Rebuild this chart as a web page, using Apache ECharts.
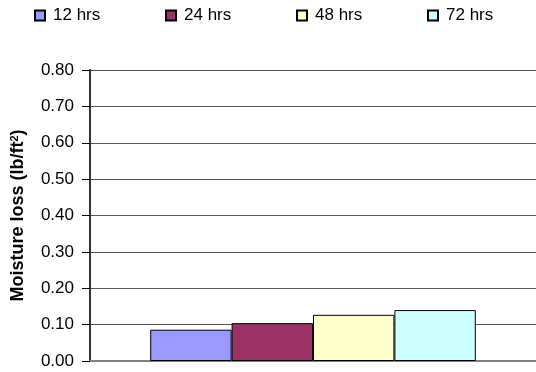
<!DOCTYPE html>
<html>
<head>
<meta charset="utf-8">
<script src="https://cdn.jsdelivr.net/npm/echarts@6/dist/echarts.min.js"></script>
<style>html,body{margin:0;padding:0;background:#fff;}#c{width:536px;height:372px;}</style>
</head>
<body>
<div id="c"></div>
<script>
var categories = [''];
var seriesNames = ['12 hrs', '24 hrs', '48 hrs', '72 hrs'];
var seriesValues = [0.086, 0.104, 0.127, 0.140];
var seriesColors = ['#9999FF', '#993366', '#FFFFCC', '#CCFFFF'];
var yTicks = [0, 0.1, 0.2, 0.3, 0.4, 0.5, 0.6, 0.7, 0.8];
var legendLeft = [34, 165, 296, 427];

var chart = echarts.init(document.getElementById('c'));
var font = 'Liberation Sans, Arial, sans-serif';
var series = seriesNames.map(function (n, i) {
  return {
    name: n, type: 'bar', data: [seriesValues[i]],
    barGap: '0%', barCategoryGap: '27%',
    itemStyle: { color: seriesColors[i], borderColor: '#000', borderWidth: 1 },
    emphasis: { disabled: true }
  };
});
var legends = seriesNames.map(function (n, i) {
  return {
    data: [n], left: legendLeft[i], top: 7, padding: 0, icon: 'rect',
    itemWidth: 10, itemHeight: 10,
    textStyle: { fontFamily: font, fontSize: 17, color: '#000', padding: [0, 0, 0, 3] }
  };
});
chart.setOption({
  animation: false,
  legend: legends,
  grid: { left: 90, right: 0, top: 70, bottom: 11 },
  xAxis: {
    type: 'category', data: categories,
    axisLine: { lineStyle: { color: '#808080', width: 2 } },
    axisTick: { show: false }, axisLabel: { show: false }
  },
  yAxis: {
    type: 'value', min: yTicks[0], max: yTicks[yTicks.length - 1], interval: 0.1,
    name: '{a|Moisture loss (lb/ft}{s|2}{a|)}',
    nameLocation: 'middle', nameGap: 62, nameRotate: 90,
    nameTextStyle: {
      rich: {
        a: { fontFamily: font, fontSize: 18, fontWeight: 'bold', color: '#000' },
        s: { fontFamily: font, fontSize: 11, fontWeight: 'bold', color: '#000', verticalAlign: 'top', padding: [0, 0, 8, 0] }
      }
    },
    axisLine: { show: true, lineStyle: { color: '#333', width: 2 } },
    axisTick: { show: true, inside: false, length: 8, lineStyle: { color: '#000' } },
    axisLabel: {
      margin: 16, fontFamily: font, fontSize: 17, color: '#000',
      formatter: function (v) { return v.toFixed(2); }
    },
    splitLine: { lineStyle: { color: '#555', width: 1 } }
  },
  series: series
});
</script>
</body>
</html>
